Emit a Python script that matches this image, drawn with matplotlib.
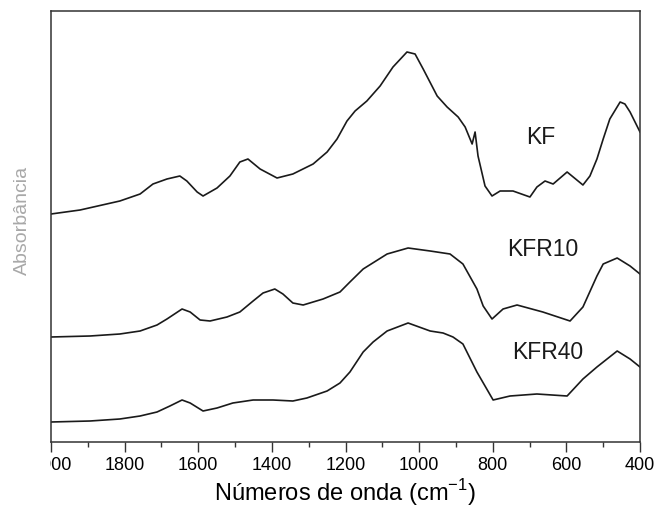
import numpy as np
import matplotlib
matplotlib.use('Agg')
import matplotlib.pyplot as plt
from matplotlib.patches import Rectangle

plt.rcParams['font.family'] = ['Liberation Sans', 'DejaVu Sans']

# wavenumbers (cm-1) and absorbance (curves already offset)
kf_w = [2000, 1921, 1813, 1758, 1723, 1685, 1650, 1631, 1603, 1587, 1549, 1514,
        1487, 1465, 1432, 1386, 1343, 1288, 1250, 1223, 1196, 1174, 1142, 1106,
        1071, 1033, 1011, 989, 951, 924, 894, 875, 856, 848, 840, 821, 802,
        780, 745, 699, 680, 658, 636, 598, 555, 536, 517, 500, 482, 454, 441,
        427, 400]
kf_a = [2.40, 2.44, 2.53, 2.60, 2.70, 2.75, 2.78, 2.73, 2.62, 2.58, 2.66, 2.78,
        2.92, 2.95, 2.85, 2.76, 2.80, 2.90, 3.02, 3.15, 3.33, 3.43, 3.53, 3.68,
        3.87, 4.02, 4.00, 3.85, 3.58, 3.47, 3.37, 3.27, 3.10, 3.22, 2.98, 2.68, 2.58,
        2.63, 2.63, 2.57, 2.67, 2.73, 2.70, 2.82, 2.69, 2.78, 2.95, 3.15, 3.35, 3.52, 3.50,
        3.42, 3.22]

kfr10_w = [2000, 1894, 1813, 1758, 1712, 1685, 1644, 1622, 1595, 1568, 1522, 1487,
           1451, 1424, 1392, 1370, 1343, 1315, 1261, 1215, 1188, 1152, 1087, 1030,
           970, 916, 881, 843, 826, 802, 772, 734, 664, 590, 555, 517, 500, 462,
           427, 400]
kfr10_a = [1.17, 1.18, 1.20, 1.23, 1.29, 1.35, 1.45, 1.42, 1.34, 1.33, 1.37, 1.42,
           1.53, 1.61, 1.65, 1.60, 1.51, 1.49, 1.55, 1.62, 1.72, 1.85, 2.00, 2.06,
           2.03, 2.00, 1.90, 1.65, 1.48, 1.35, 1.45, 1.49, 1.42, 1.33, 1.47, 1.78, 1.90, 1.96,
           1.88, 1.80]

kfr40_w = [2000, 1894, 1813, 1758, 1712, 1677, 1644, 1622, 1587, 1549, 1506, 1451,
           1397, 1343, 1305, 1250, 1215, 1188, 1152, 1125, 1087, 1030, 970, 935,
           908, 881, 843, 799, 753, 680, 598, 555, 517, 462, 427, 400]
kfr40_a = [0.32, 0.33, 0.35, 0.38, 0.42, 0.48, 0.54, 0.51, 0.43, 0.46, 0.51, 0.54,
           0.54, 0.53, 0.56, 0.63, 0.71, 0.82, 1.02, 1.12, 1.23, 1.31, 1.23, 1.21,
           1.17, 1.10, 0.82, 0.54, 0.58, 0.60, 0.58, 0.75, 0.87, 1.03, 0.95, 0.87]

labels = ['KF', 'KFR10', 'KFR40']
label_pos = [(669, 3.17), (664, 2.05), (650, 1.02)]

fig = plt.figure(figsize=(6.58, 5.10), dpi=100)
ax = fig.add_axes([51/658, 1 - 443/510, 589/658, 431/510])

for w, a in [(kf_w, kf_a), (kfr10_w, kfr10_a), (kfr40_w, kfr40_a)]:
    ax.plot(w, a, color='#1a1a1a', lw=1.2)

for lab, (x, y) in zip(labels, label_pos):
    ax.text(x, y, lab, fontsize=16.5, ha='center', va='center', color='#1a1a1a')

ax.set_xlim(2000, 400)
ax.set_ylim(0.12, 4.43)
ax.set_xticks(np.arange(2000, 399, -200))
ax.set_xticks(np.arange(1900, 400, -200), minor=True)
ax.set_yticks([])
ax.tick_params(axis='x', which='major', direction='out', length=7, width=1.0,
               labelsize=13, pad=3, color='#333333')
ax.tick_params(axis='x', which='minor', direction='out', length=3.5, width=1.0,
               color='#333333')
for s in ax.spines.values():
    s.set_linewidth(1.1)
    s.set_color('#333333')

ax.set_xlabel('Números de onda (cm$^{\\mathregular{-1}}$)', fontsize=17, labelpad=2)

fig.text(22/658, 1 - 220/510, 'Absorbância', rotation=90, fontsize=14,
         ha='center', va='center', color='#a8a8a8')

# white strip hiding the left part of the first tick label, as in the figure
fig.patches.append(Rectangle((0, 0), 50/658, 70/510, transform=fig.transFigure,
                             facecolor='white', edgecolor='none', zorder=10))

fig.savefig('out.png', dpi=100)
